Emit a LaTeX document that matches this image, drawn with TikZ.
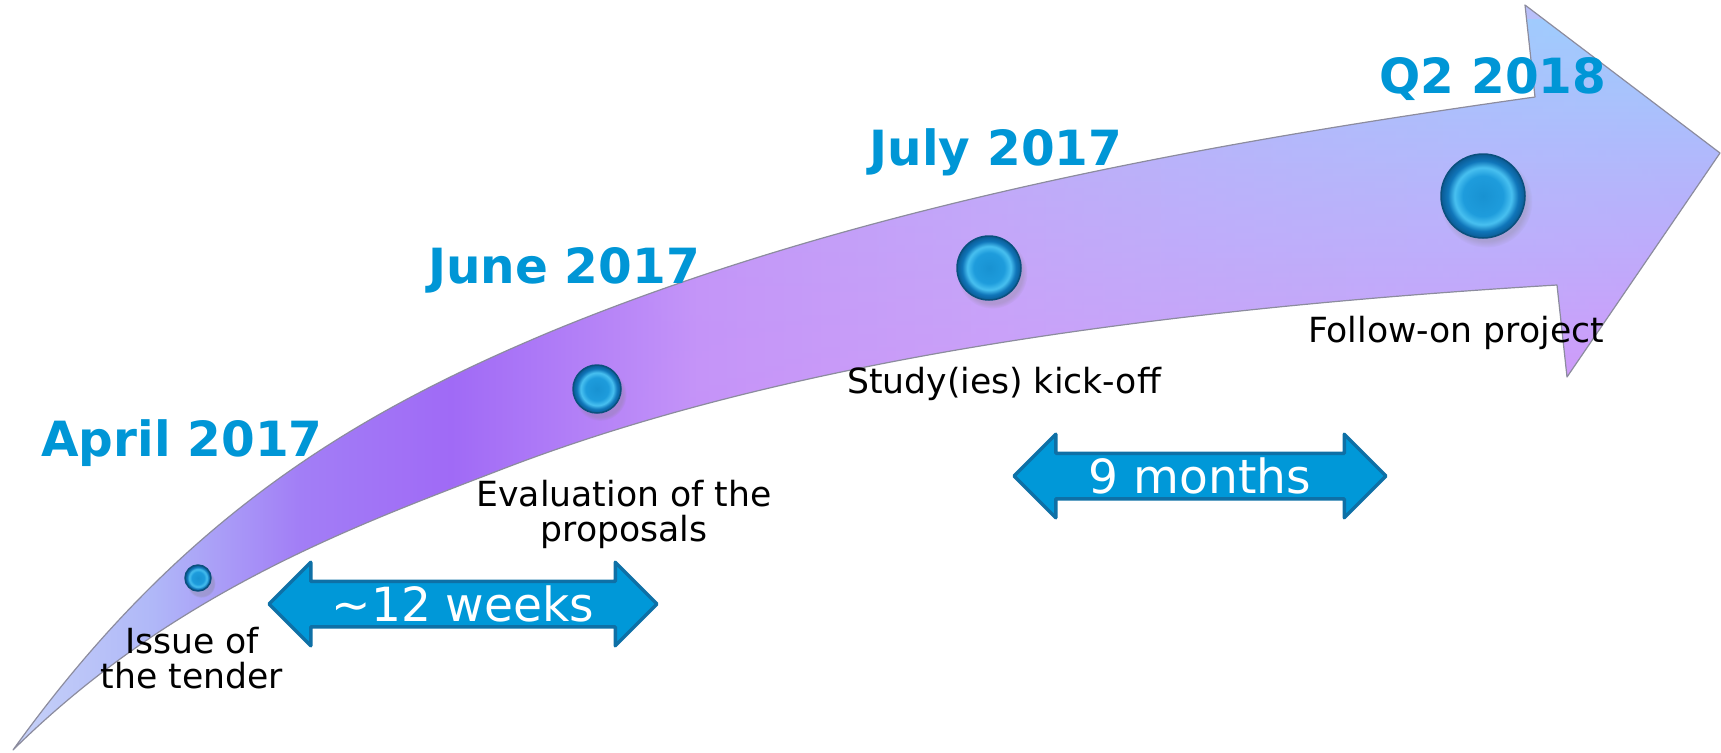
\documentclass[tikz,border=0pt]{standalone}
\usepackage{fontspec}
\setmainfont{DejaVu Sans}
\usetikzlibrary{shapes.arrows,shadows,fadings}
\definecolor{tlblue}{RGB}{0,150,214}
\definecolor{arrowfill}{RGB}{0,152,216}
\definecolor{arrowline}{RGB}{14,112,166}
\definecolor{dotline}{RGB}{10,80,125}
\definecolor{b1}{RGB}{24,146,210}
\definecolor{b2}{RGB}{30,156,220}
\definecolor{b3}{RGB}{72,192,240}
\definecolor{b4}{RGB}{16,118,186}
\definecolor{b5}{RGB}{10,90,148}
\definecolor{edge}{RGB}{140,140,158}
\definecolor{headblue}{RGB}{156,206,254}
\definecolor{headpink}{RGB}{214,146,250}
% mau doc theo than mui ten
\definecolor{c0}{RGB}{200,212,248}
\definecolor{c1}{RGB}{176,184,248}
\definecolor{c2}{RGB}{162,126,246}
\definecolor{c3}{RGB}{160,106,246}
\definecolor{c4}{RGB}{196,148,248}
\definecolor{c5}{RGB}{200,164,248}
\definecolor{c6}{RGB}{190,180,248}
\definecolor{c7}{RGB}{180,200,250}
\pgfdeclarehorizontalshading{timeline}{100bp}{color(0bp)=(c0); color(25bp)=(c0);
	color(29.4bp)=(c1); color(33.7bp)=(c2); color(38.1bp)=(c3); color(45.3bp)=(c4);
	color(54bp)=(c5); color(62.8bp)=(c6); color(75bp)=(c7); color(100bp)=(c7)}
\pgfdeclareradialshading{button}{\pgfpoint{0bp}{0bp}}{color(0bp)=(b1); color(12bp)=(b2);
	color(17bp)=(b3); color(21bp)=(b4); color(25bp)=(b5); color(50bp)=(b5)}
\tikzfading[name=fade in east, left color=transparent!100, right color=transparent!0]
\begin{document}
\begin{tikzpicture}[x=0.1mm, y=-0.1mm, line join=round,
	datetxt/.style={text=tlblue, font=\fontsize{13.8}{16}\selectfont\bfseries, anchor=base, inner sep=0pt},
	lbl/.style={font=\fontsize{9.85}{10.1}\selectfont, align=center, inner sep=0pt},
	spanarrow/.style={double arrow, double arrow head extend=1.9mm, minimum width=8.2mm, inner sep=0pt,
		text height=3.8mm, text depth=0.4mm, fill=arrowfill, draw=arrowline, line width=0.35mm,
		text=white, font=\fontsize{13.4}{16}\selectfont},
	milestone/.style={circle, inner sep=0pt, draw=dotline, line width=0.15mm, shading=button,
		circular drop shadow={shadow xshift=0.3mm, shadow yshift=-0.5mm, opacity=0.3}}]
	\useasboundingbox (0,0) rectangle (1721,752);
	% than mui ten cong
	\def\arrowpath{(13,750) .. controls (185,510) and (365.6,409.4) .. (550,332)
		.. controls (855,206) and (1208,143) .. (1535,97) -- (1525,5) -- (1720,153) -- (1567,377) -- (1557,285)
		.. controls (1108,312) and (761,369) .. (500,470)
		.. controls (360,524) and (175,590) .. (13,750) -- cycle}
	\begin{scope}
		\clip \arrowpath;
		\shade[shading=timeline] (0,0) rectangle (1721,752);
		\shade[top color=headblue, bottom color=headpink, path fading=fade in east, fit fading=true] (600,20) rectangle (1721,400);
	\end{scope}
	\draw[edge, line width=0.12mm] \arrowpath;
	% cac moc
	\foreach \ten/\x/\y/\d in {m1/198/578/2.6, m2/597/389/4.8, m3/989/268/6.4, m4/1483/196/8.4}
		\node[milestone, minimum size=\d mm] (\ten) at (\x,\y) {};
	\node[datetxt] (april) at (182,456) {April 2017};
	\node[datetxt] (june) at (564,283) {June 2017};
	\node[datetxt] (july) at (996,165) {July 2017};
	\node[datetxt] (q2) at (1493,93) {Q2 2018};
	\node[lbl, anchor=north] (issue) at (192,626) {Issue of\\the tender};
	\node[lbl, anchor=north] (eval) at (624,479) {Evaluation of the\\proposals};
	\node[lbl, anchor=base] (kick) at (1004,393) {Study(ies) kick-off};
	\node[lbl, anchor=base] (follow) at (1456,342) {Follow-on project};
	% khoang thoi gian
	\node[spanarrow, minimum height=38.8mm] (weeks) at (463,604) {\textasciitilde12 weeks};
	\node[spanarrow, minimum height=37.2mm] (months) at (1200,476) {9 months};
\end{tikzpicture}
\end{document}
